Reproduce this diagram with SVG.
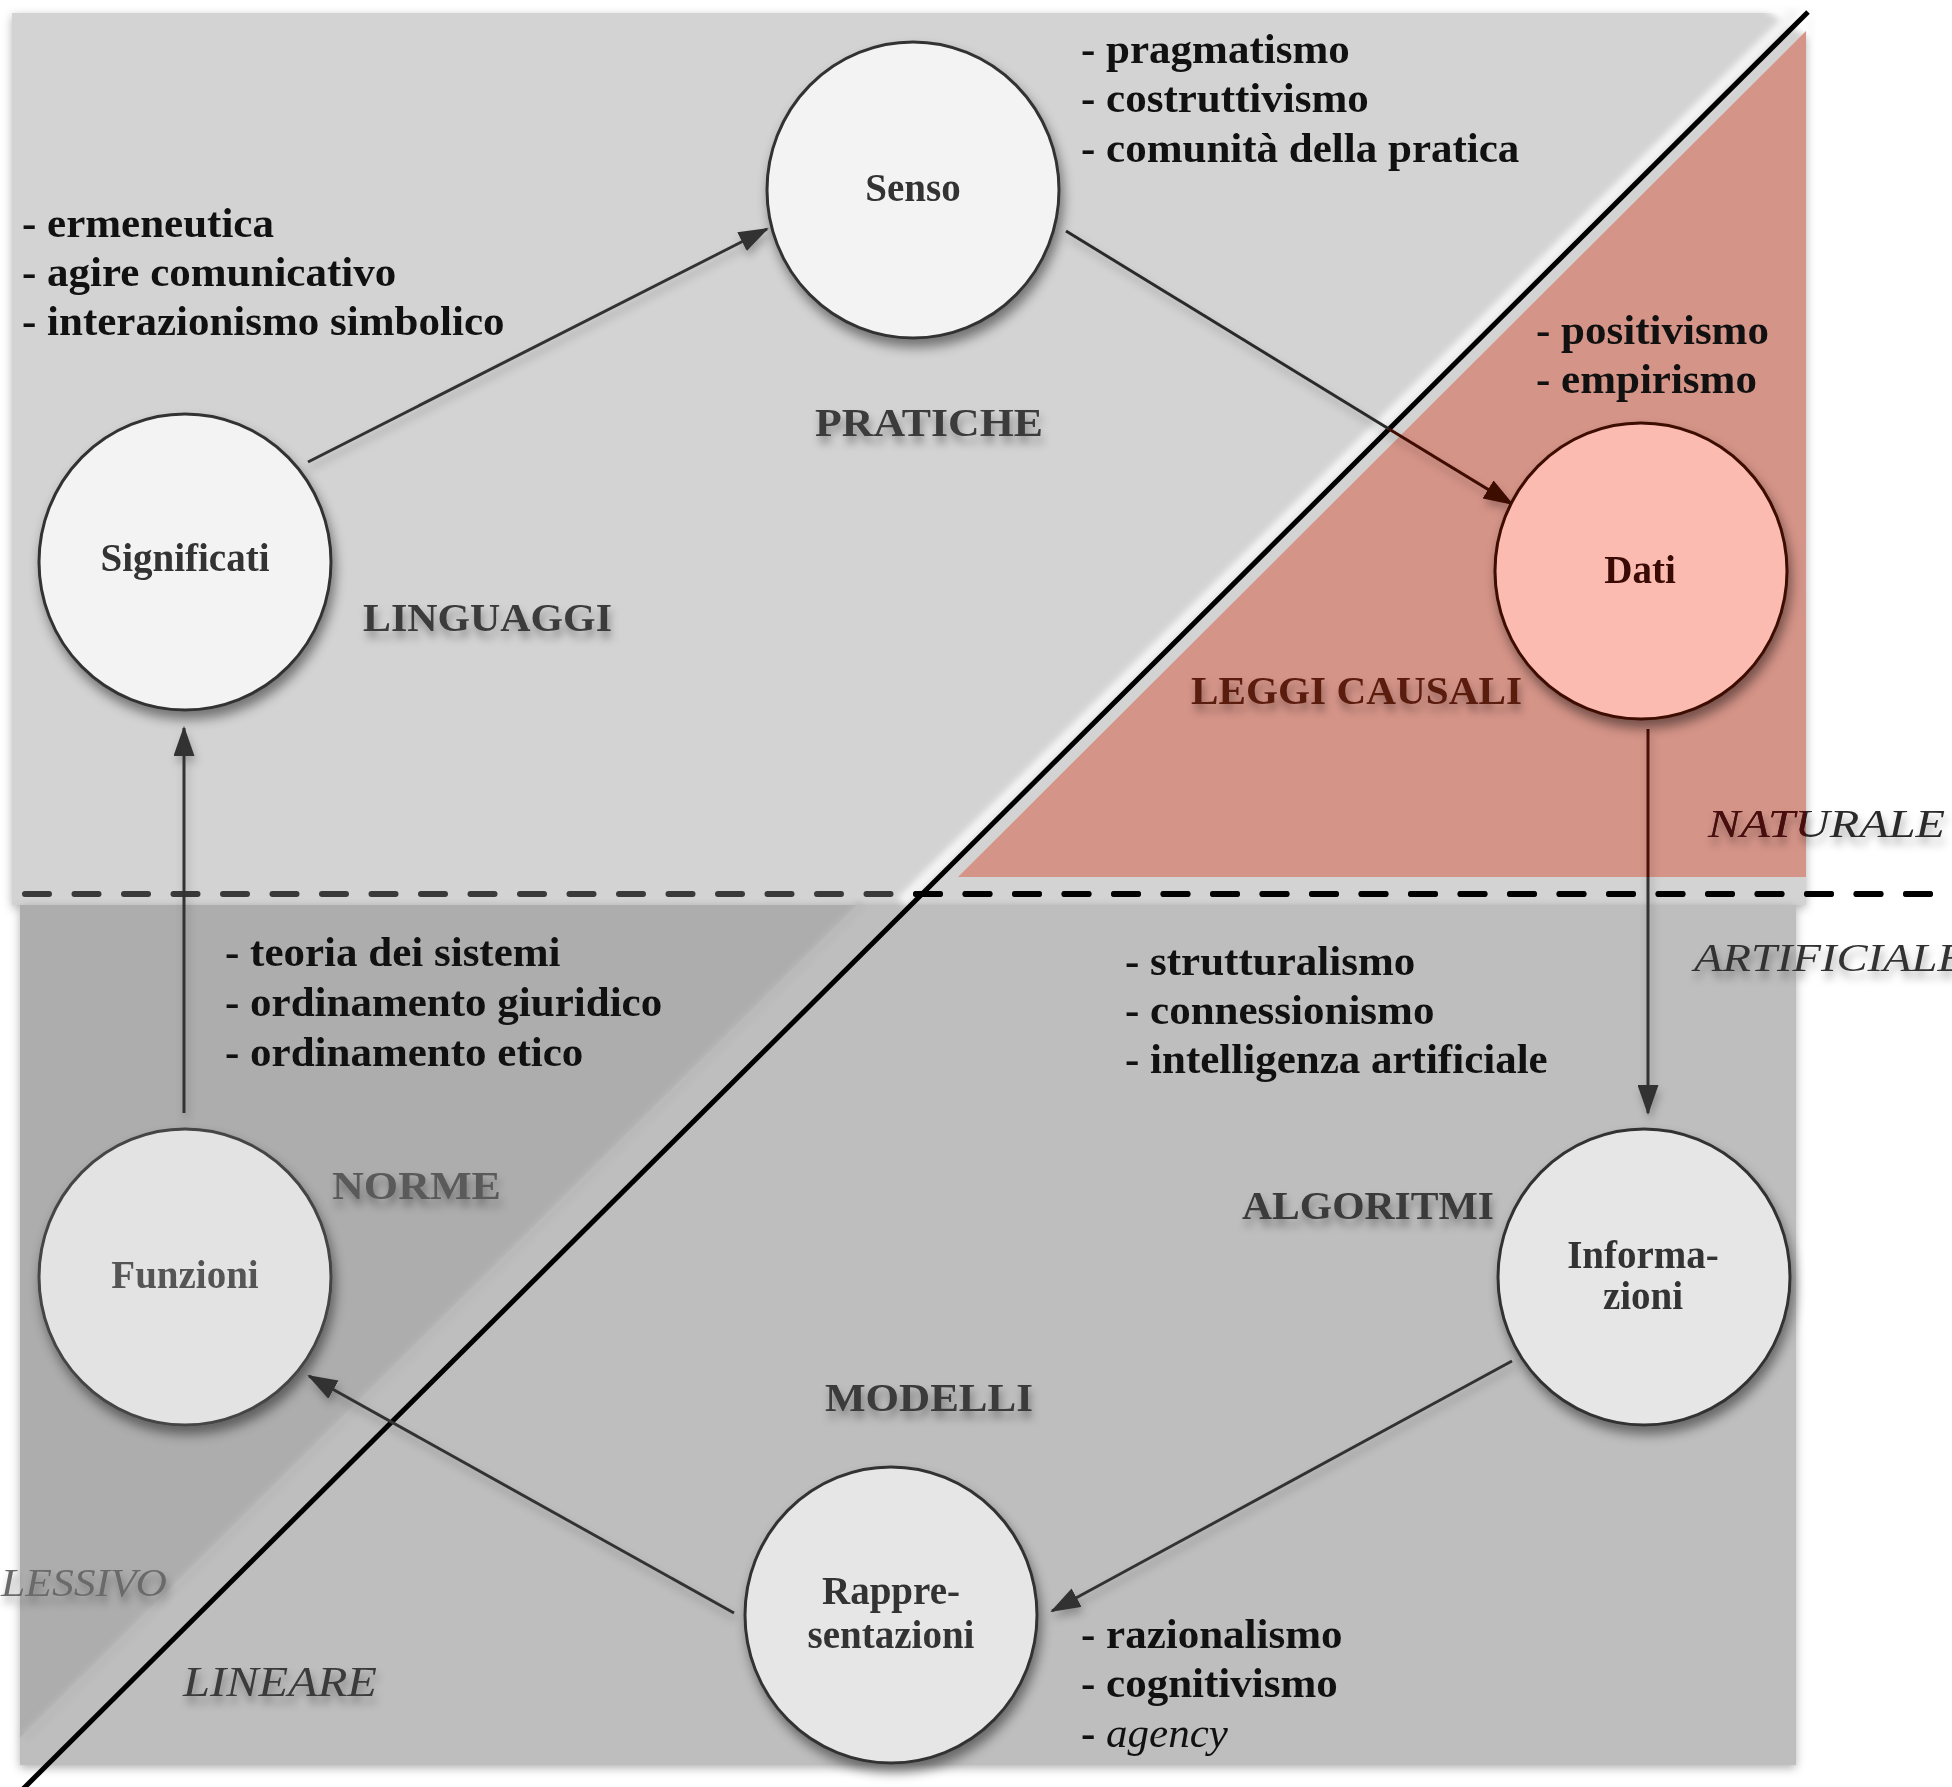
<svg xmlns="http://www.w3.org/2000/svg" width="1952" height="1787" viewBox="0 0 1952 1787">
<defs>
<style>
.list{font-family:"Liberation Serif",serif;font-weight:bold;font-size:43px;fill:#111}
.node{font-family:"Liberation Serif",serif;font-weight:bold;font-size:39px;fill:#333;text-anchor:middle}
.region{font-family:"Liberation Serif",serif;font-weight:bold;font-size:39px;fill:#3a3a3a}
.axis{font-family:"Liberation Serif",serif;font-style:italic;font-size:40px;fill:#2a2a2a}
.circ{stroke:#333;stroke-width:3}
.conn{fill:none;stroke:#333;stroke-width:3}
</style>
<filter id="shadow" x="-20%" y="-20%" width="140%" height="140%">
<feDropShadow dx="3" dy="8" stdDeviation="6" flood-color="#000" flood-opacity="0.45"/>
</filter>
<filter id="tshadow" x="-10%" y="-30%" width="120%" height="180%">
<feDropShadow dx="2" dy="7" stdDeviation="4" flood-color="#000" flood-opacity="0.35"/>
</filter>
<filter id="lshadow" x="-10%" y="-10%" width="120%" height="120%">
<feDropShadow dx="2" dy="6" stdDeviation="4" flood-color="#000" flood-opacity="0.25"/>
</filter>
<filter id="pshadow" x="-5%" y="-5%" width="110%" height="110%">
<feDropShadow dx="0" dy="3" stdDeviation="5" flood-color="#000" flood-opacity="0.3"/>
</filter>
<filter id="blur3"><feGaussianBlur stdDeviation="3"/></filter>
<marker id="arrow" viewBox="0 0 30 21" refX="28" refY="10.5" markerWidth="30" markerHeight="21" markerUnits="userSpaceOnUse" orient="auto">
<path d="M0,0 L30,10.5 L0,21 z" fill="#333"/>
</marker>
<marker id="arrowRed" viewBox="0 0 30 21" refX="28" refY="10.5" markerWidth="30" markerHeight="21" markerUnits="userSpaceOnUse" orient="auto">
<path d="M0,0 L30,10.5 L0,21 z" fill="#3d0804"/>
</marker>
<clipPath id="pinkClip"><polygon points="1806,31 1806,877 958,877"/></clipPath>
<clipPath id="rightClip"><rect x="900" y="0" width="1052" height="1787"/></clipPath>
</defs>

<g id="background">
<rect x="12" y="13" width="1794" height="892" fill="#d3d3d3" filter="url(#pshadow)"/>
<polygon points="1762,8 1812,8 1812,40" fill="#ffffff" filter="url(#blur3)"/>
<rect x="20" y="905" width="1776" height="860" fill="#bebebe" filter="url(#pshadow)"/>
<polygon points="20,905 857,905 20,1738" fill="#adadad"/>
<line x1="862" y1="905" x2="25" y2="1738" stroke="#b9b9b9" stroke-width="10" filter="url(#blur3)"/>
<line x1="1796" y1="12" x2="902" y2="902" stroke="#f4f4f4" stroke-width="12" filter="url(#blur3)"/>
<polygon points="1806,31 1806,877 958,877" fill="#d59488"/>
<line x1="1808" y1="12" x2="22" y2="1790" stroke="#000" stroke-width="5"/>
</g>

<g id="dashed-divider">
<line x1="25" y1="894" x2="1952" y2="894" stroke="#3a3a3a" stroke-width="6" stroke-dasharray="24 25.5" stroke-linecap="round"/>
<line x1="25" y1="894" x2="1952" y2="894" stroke="#000" stroke-width="6" stroke-dasharray="24 25.5" stroke-linecap="round" clip-path="url(#rightClip)"/>
</g>

<g id="axis-labels" filter="url(#tshadow)">
<text class="axis" x="1708" y="837" textLength="237" lengthAdjust="spacingAndGlyphs">NATURALE</text>
<text class="axis" x="1708" y="837" textLength="237" lengthAdjust="spacingAndGlyphs" style="fill:#4a0e08" clip-path="url(#pinkClip)">NATURALE</text>
<text class="axis" x="1694" y="971" textLength="272" lengthAdjust="spacingAndGlyphs" style="fill:#333">ARTIFICIALE</text>
<text class="axis" x="1" y="1596" textLength="166" lengthAdjust="spacingAndGlyphs" style="fill:#6b6b6b">LESSIVO</text>
<text class="axis" x="183" y="1696" textLength="194" lengthAdjust="spacingAndGlyphs" style="fill:#3a3a3a;font-size:42px">LINEARE</text>
</g>

<g id="region-labels" filter="url(#tshadow)">
<text class="region" x="815" y="436" textLength="228" lengthAdjust="spacingAndGlyphs">PRATICHE</text>
<text class="region" x="363" y="631" textLength="249" lengthAdjust="spacingAndGlyphs">LINGUAGGI</text>
<text class="region" x="1191" y="704" textLength="331" lengthAdjust="spacingAndGlyphs" style="fill:#5a1a10">LEGGI CAUSALI</text>
<text class="region" x="332" y="1199" textLength="169" lengthAdjust="spacingAndGlyphs" style="fill:#5a5a5a">NORME</text>
<text class="region" x="1242" y="1219" textLength="252" lengthAdjust="spacingAndGlyphs">ALGORITMI</text>
<text class="region" x="825" y="1411" textLength="208" lengthAdjust="spacingAndGlyphs">MODELLI</text>
</g>

<g id="connectors" filter="url(#lshadow)">
<line class="conn" x1="308" y1="462" x2="767" y2="229" marker-end="url(#arrow)"/>
<line class="conn" x1="1066" y1="231" x2="1389" y2="429" style="stroke:#2a2a2a"/>
<line class="conn" x1="1389" y1="429" x2="1512" y2="504" style="stroke:#3d0804" marker-end="url(#arrowRed)"/>
<line class="conn" x1="1648" y1="729" x2="1648" y2="877" style="stroke:#4a0f08"/>
<line class="conn" x1="1648" y1="877" x2="1648" y2="1113" marker-end="url(#arrow)"/>
<line class="conn" x1="1512" y1="1361" x2="1052" y2="1611" marker-end="url(#arrow)"/>
<line class="conn" x1="734" y1="1613" x2="309" y2="1376" marker-end="url(#arrow)"/>
<line class="conn" x1="184" y1="1113" x2="184" y2="728" marker-end="url(#arrow)"/>
</g>

<g id="node-senso">
<ellipse class="circ" cx="913" cy="190" rx="146" ry="148" fill="#f3f3f3" filter="url(#shadow)"/>
<text class="node" x="913" y="201">Senso</text>
</g>
<g id="node-significati">
<ellipse class="circ" cx="185" cy="562" rx="146" ry="148" fill="#f3f3f3" filter="url(#shadow)"/>
<text class="node" x="185" y="571">Significati</text>
</g>
<g id="node-dati">
<ellipse class="circ" cx="1641" cy="571" rx="146" ry="148" fill="#fbbbb1" style="stroke:#3d0a05" filter="url(#shadow)"/>
<text class="node" x="1640" y="583" style="fill:#3a0a05">Dati</text>
</g>
<g id="node-funzioni">
<ellipse class="circ" cx="185" cy="1277" rx="146" ry="148" fill="#e3e3e3" style="stroke:#444" filter="url(#shadow)"/>
<text class="node" x="185" y="1288" style="fill:#555">Funzioni</text>
</g>
<g id="node-informazioni">
<ellipse class="circ" cx="1644" cy="1277" rx="146" ry="148" fill="#e6e6e6" filter="url(#shadow)"/>
<text class="node" x="1643" y="1268">Informa-</text>
<text class="node" x="1643" y="1309">zioni</text>
</g>
<g id="node-rappresentazioni">
<ellipse class="circ" cx="891" cy="1615" rx="146" ry="148" fill="#e6e6e6" filter="url(#shadow)"/>
<text class="node" x="891" y="1604">Rappre-</text>
<text class="node" x="891" y="1648">sentazioni</text>
</g>

<g id="lists">
<text class="list" x="22" y="237">- ermeneutica</text>
<text class="list" x="22" y="286">- agire comunicativo</text>
<text class="list" x="22" y="335">- interazionismo simbolico</text>
<text class="list" x="1081" y="63">- pragmatismo</text>
<text class="list" x="1081" y="112">- costruttivismo</text>
<text class="list" x="1081" y="162">- comunità della pratica</text>
<text class="list" x="1536" y="344">- positivismo</text>
<text class="list" x="1536" y="393">- empirismo</text>
<text class="list" x="225" y="966">- teoria dei sistemi</text>
<text class="list" x="225" y="1016">- ordinamento giuridico</text>
<text class="list" x="225" y="1066">- ordinamento etico</text>
<text class="list" x="1125" y="975">- strutturalismo</text>
<text class="list" x="1125" y="1024">- connessionismo</text>
<text class="list" x="1125" y="1073">- intelligenza artificiale</text>
<text class="list" x="1081" y="1648">- razionalismo</text>
<text class="list" x="1081" y="1697">- cognitivismo</text>
<text class="list" x="1081" y="1747">- <tspan style="font-weight:normal;font-style:italic">agency</tspan></text>
</g>
</svg>
